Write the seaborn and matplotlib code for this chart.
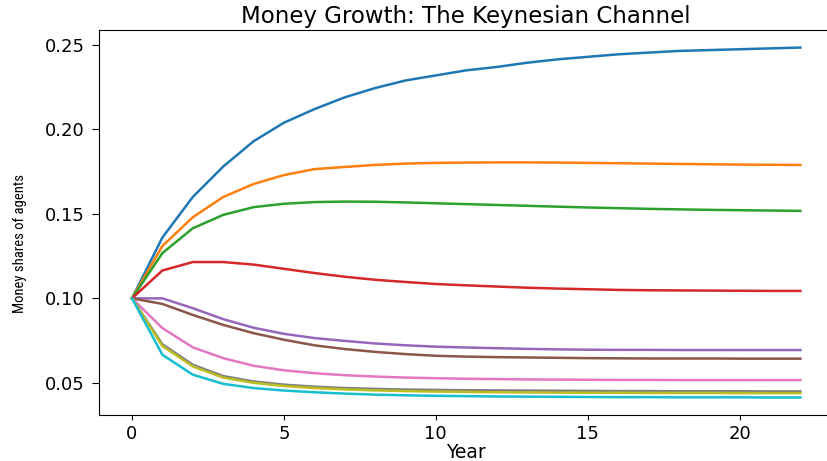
import numpy as np
import pandas as pd
import matplotlib
matplotlib.use("Agg")
import matplotlib.pyplot as plt
import seaborn as sns

years = list(range(23))

agent_0 = [0.100, 0.136, 0.160, 0.178, 0.193, 0.204, 0.212, 0.219, 0.2245, 0.229, 0.232,
           0.235, 0.237, 0.2395, 0.2415, 0.243, 0.2445, 0.2455, 0.2465, 0.247, 0.2475, 0.248, 0.2485]
agent_1 = [0.100, 0.131, 0.148, 0.160, 0.1677, 0.173, 0.1765, 0.1778, 0.1790, 0.1798, 0.1802,
           0.1804, 0.1805, 0.1805, 0.1804, 0.1802, 0.1800, 0.1798, 0.1796, 0.1794, 0.1792, 0.1791, 0.1790]
agent_2 = [0.100, 0.1268, 0.1415, 0.1494, 0.154, 0.156, 0.157, 0.1573, 0.1572, 0.1568, 0.1563,
           0.1558, 0.1553, 0.1548, 0.1543, 0.1538, 0.1534, 0.1530, 0.1527, 0.1524, 0.1522, 0.1520, 0.1518]
agent_3 = [0.100, 0.1165, 0.1215, 0.1215, 0.1200, 0.1175, 0.1150, 0.1128, 0.1110, 0.1097, 0.1085,
           0.1077, 0.1070, 0.1063, 0.1058, 0.1054, 0.1050, 0.1048, 0.1047, 0.1046, 0.1045, 0.1044, 0.1044]
agent_4 = [0.100, 0.100, 0.0942, 0.0877, 0.0826, 0.0790, 0.0765, 0.0748, 0.0733, 0.0722, 0.0714,
           0.0709, 0.0705, 0.0701, 0.0698, 0.0696, 0.0695, 0.0695, 0.0694, 0.0694, 0.0694, 0.0694, 0.0694]
agent_5 = [0.100, 0.0967, 0.0902, 0.0843, 0.0794, 0.0755, 0.0722, 0.0700, 0.0683, 0.0670, 0.0660,
           0.0655, 0.0652, 0.0650, 0.0648, 0.0646, 0.0645, 0.0644, 0.0644, 0.0644, 0.0643, 0.0643, 0.0643]
agent_6 = [0.100, 0.0824, 0.0710, 0.0646, 0.0601, 0.0574, 0.0557, 0.0545, 0.0537, 0.0531, 0.0527,
           0.0524, 0.0522, 0.0520, 0.0519, 0.0518, 0.0517, 0.0517, 0.0516, 0.0516, 0.0516, 0.0516, 0.0516]
agent_7 = [0.100, 0.0728, 0.0607, 0.0540, 0.0508, 0.0489, 0.0477, 0.0469, 0.0464, 0.0460, 0.0458,
           0.0456, 0.0455, 0.0454, 0.0453, 0.0452, 0.0451, 0.0451, 0.0450, 0.0450, 0.0450, 0.0449, 0.0449]
agent_8 = [0.100, 0.0718, 0.0597, 0.0531, 0.0500, 0.0481, 0.0469, 0.0461, 0.0455, 0.0451, 0.0448,
           0.0446, 0.0444, 0.0443, 0.0442, 0.0441, 0.0441, 0.0440, 0.0440, 0.0440, 0.0439, 0.0439, 0.0439]
agent_9 = [0.100, 0.0666, 0.0548, 0.0494, 0.0469, 0.0454, 0.0444, 0.0436, 0.0430, 0.0426, 0.0423,
           0.0421, 0.0419, 0.0418, 0.0417, 0.0416, 0.0415, 0.0415, 0.0414, 0.0414, 0.0414, 0.0413, 0.0413]

agents = [agent_0, agent_1, agent_2, agent_3, agent_4,
          agent_5, agent_6, agent_7, agent_8, agent_9]

df = pd.concat(
    [pd.DataFrame({"Year": years, "Share": vals, "Agent": i}) for i, vals in enumerate(agents)],
    ignore_index=True,
)

fig = plt.figure(figsize=(8.27, 4.61), dpi=100)
ax = fig.add_axes([0.1192, 0.0998, 0.889, 0.835])
sns.lineplot(data=df, x="Year", y="Share", hue="Agent", palette="tab10",
             legend=False, linewidth=1.8, ax=ax)
ax.set_yticks([0.05, 0.10, 0.15, 0.20, 0.25])
ax.set_xticks([0, 5, 10, 15, 20])
ax.tick_params(axis="x", labelsize=13)
ax.tick_params(axis="y", labelsize=13, length=5, pad=5)
ax.set_title("Money Growth: The Keynesian Channel", fontsize=16.5, pad=5)
ax.set_xlabel("Year", fontsize=13.5, labelpad=0)
ax.set_ylabel("Money shares of agents", fontsize=10.5,
              family=["Roboto Condensed", "Roboto"], fontstretch="condensed")
ax.yaxis.set_label_coords(-0.098, 0.445)

fig.savefig("out.png", dpi=100)
